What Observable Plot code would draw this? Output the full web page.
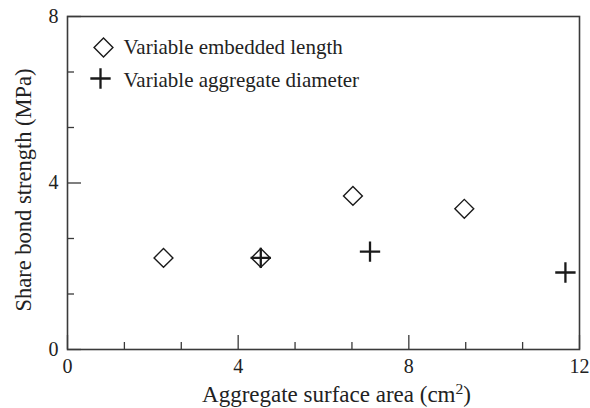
<!DOCTYPE html>
<html>
<head>
<meta charset="utf-8">
<script src="https://cdn.jsdelivr.net/npm/d3@7"></script>
<script src="https://cdn.jsdelivr.net/npm/@observablehq/plot@0.6"></script>
<style>
  html, body { margin: 0; padding: 0; background: #fff; }
  #chart svg { display: block; }
</style>
</head>
<body>
<div id="chart"></div>
<script>
// Data
const embeddedArea = [2.25, 4.53, 6.69, 9.3];
const embeddedStrength = [2.2, 2.2, 3.69, 3.38];
const aggregateArea = [4.53, 7.09, 11.67];
const aggregateStrength = [2.2, 2.35, 1.85];

const xMajorTicks = [0, 4, 8, 12];
const yMajorTicks = [0, 4, 8];
const xMinorTicks = [4/3, 8/3, 16/3, 20/3, 28/3, 32/3];
const yMinorTicks = [4/3, 8/3, 16/3, 20/3];

const legendLabels = ["Variable embedded length", "Variable aggregate diameter"];
const xLabelParts = ["Aggregate surface area (cm", "2", ")"];
const yLabel = "Share bond strength (MPa)";

const embedded = embeddedArea.map((x, i) => ({x, y: embeddedStrength[i]}));
const aggregate = aggregateArea.map((x, i) => ({x, y: aggregateStrength[i]}));

const ink = "#1a1a1a";
const axisInk = "#3a3a3a";
const textInk = "#222";

const chart = Plot.plot({
  width: 590,
  height: 408,
  marginLeft: 67,
  marginRight: 11,
  marginTop: 16,
  marginBottom: 59,
  style: {fontFamily: "'Liberation Serif', serif", fontSize: "20px", color: textInk, background: "#fff"},
  x: {domain: [0, 12]},
  y: {domain: [0, 8]},
  marks: [
    // inward ticks
    Plot.axisX({ticks: xMajorTicks, tickSize: -14, tickFormat: () => "", stroke: axisInk, strokeWidth: 1.3, label: null}),
    Plot.axisX({ticks: xMinorTicks, tickSize: -7, tickFormat: () => "", stroke: axisInk, strokeWidth: 1.3, label: null}),
    Plot.axisY({ticks: yMajorTicks, tickSize: -14, tickFormat: () => "", stroke: axisInk, strokeWidth: 1.3, label: null}),
    Plot.axisY({ticks: yMinorTicks, tickSize: -7, tickFormat: () => "", stroke: axisInk, strokeWidth: 1.3, label: null}),
    // tick labels
    Plot.axisX({ticks: xMajorTicks, tickSize: 0, tickPadding: 9, fontSize: 20, label: null}),
    Plot.axisY({ticks: yMajorTicks, tickSize: 0, tickPadding: 9, fontSize: 20, label: null}),
    // axis titles
    Plot.text([xLabelParts.join("")], {frameAnchor: "bottom", text: d => d, dx: 13, dy: 45, lineAnchor: "middle", textAnchor: "middle", fontSize: 23, fill: textInk}),
    Plot.text([yLabel], {frameAnchor: "left", text: d => d, rotate: -90, dx: -44, dy: 7, lineAnchor: "middle", textAnchor: "middle", fontSize: 22.5, fill: textInk}),
    Plot.frame({stroke: axisInk, strokeWidth: 1.6}),
    // data
    Plot.dot(embedded, {x: "x", y: "y", symbol: "diamond2", r: 8.5, stroke: ink, strokeWidth: 1.4, fill: "none"}),
    Plot.dot(aggregate, {x: "x", y: "y", symbol: "plus", r: 6.6, stroke: ink, strokeWidth: 2.3}),
    // legend
    Plot.dot([legendLabels[0]], {frameAnchor: "top-left", dx: 36, dy: 31, symbol: "diamond2", r: 8.5, stroke: ink, strokeWidth: 1.4, fill: "none"}),
    Plot.dot([legendLabels[1]], {frameAnchor: "top-left", dx: 33, dy: 62, symbol: "plus", r: 6.6, stroke: ink, strokeWidth: 2.3}),
    Plot.text([legendLabels[0]], {frameAnchor: "top-left", text: d => d, dx: 56, dy: 31, textAnchor: "start", lineAnchor: "middle", fontSize: 21, fill: textInk}),
    Plot.text([legendLabels[1]], {frameAnchor: "top-left", text: d => d, dx: 56, dy: 64, textAnchor: "start", lineAnchor: "middle", fontSize: 21, fill: textInk})
  ]
});

// render the "2" of cm2 as a real superscript
const fullXLabel = xLabelParts.join("");
d3.select(chart).selectAll("text").filter(function() { return this.textContent === fullXLabel; }).each(function() {
  const t = d3.select(this);
  t.text(xLabelParts[0]);
  t.append("tspan").attr("font-size", "0.68em").attr("dy", "-0.5em").text(xLabelParts[1]);
  t.append("tspan").attr("dy", "0.34em").text(xLabelParts[2]);
});

document.getElementById("chart").appendChild(chart);
</script>
</body>
</html>
